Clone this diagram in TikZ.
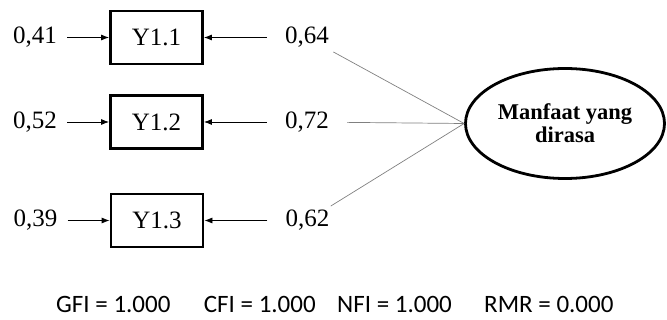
\documentclass[tikz,border=0pt]{standalone}
\usepackage{fontspec}
\setmainfont{Liberation Serif}
\newfontfamily\fitfont{Carlito}
\usetikzlibrary{positioning}
\usetikzlibrary{arrows.meta}
\usetikzlibrary{shapes.geometric}

\begin{document}
\begin{tikzpicture}[x=1pt,y=-1pt,
        every node/.style={font=\fontsize{25}{29}\selectfont},
        indbox/.style={draw,line width=2.8pt,minimum width=92pt,minimum height=53pt,inner sep=0pt},
        errnum/.style={inner xsep=10pt,inner ysep=4pt},
        loadnum/.style={inner xsep=18pt,inner ysep=4pt},
        latent/.style={draw,ellipse,line width=2.8pt,minimum width=199pt,minimum height=110pt,
                       inner sep=0pt,align=center,font=\fontsize{22.5}{23}\selectfont\bfseries},
        errarrow/.style={-{Latex[length=8pt,width=6pt]},line width=0.8pt},
        loading/.style={draw=gray,line width=0.7pt},
        fitidx/.style={font=\fitfont\fontsize{25}{29}\selectfont,inner sep=0pt}]
    \useasboundingbox (0,0) rectangle (667,320);
		\node (lv) [latent] at (565,123.5) {Manfaat yang\\dirasa};
		%% indicators
		\node (y11) [indbox] at (156.5,37.5) {Y1.1};
		\node (y12) [indbox] at (156.5,122) {Y1.2};
		\node (y13) [indbox] at (157,220.5) {Y1.3};
		%% error terms
		\node (e1) [errnum,left=42pt of y11] {0,41};
		\draw[errarrow] (e1) -- (y11);
		\node (e2) [errnum,left=42pt of y12] {0,52};
		\draw[errarrow] (e2) -- (y12);
		\node (e3) [errnum,left=42pt of y13] {0,39};
		\draw[errarrow] (e3) -- (y13);
		%% loadings
		\node (l1) [loadnum,right=63pt of y11] {0,64};
		\draw[errarrow] (l1) -- (y11);
		\draw[loading] (l1) -- (lv.west);
		\node (l2) [loadnum,right=63pt of y12] {0,72};
		\draw[errarrow] (l2) -- (y12);
		\draw[loading] (l2) -- (lv.west);
		\node (l3) [loadnum,right=63pt of y13] {0,62};
		\draw[errarrow] (l3) -- (y13);
		\draw[loading] (l3) -- (lv.west);
		%% fit indices
		\node (gfi) [fitidx,anchor=base west] at (56,313) {GFI = 1.000};
		\node (cfi) [fitidx,base right=33pt of gfi] {CFI = 1.000};
		\node (nfi) [fitidx,base right=21pt of cfi] {NFI = 1.000};
		\node (rmr) [fitidx,base right=32pt of nfi] {RMR = 0.000};
\end{tikzpicture}
\end{document}
